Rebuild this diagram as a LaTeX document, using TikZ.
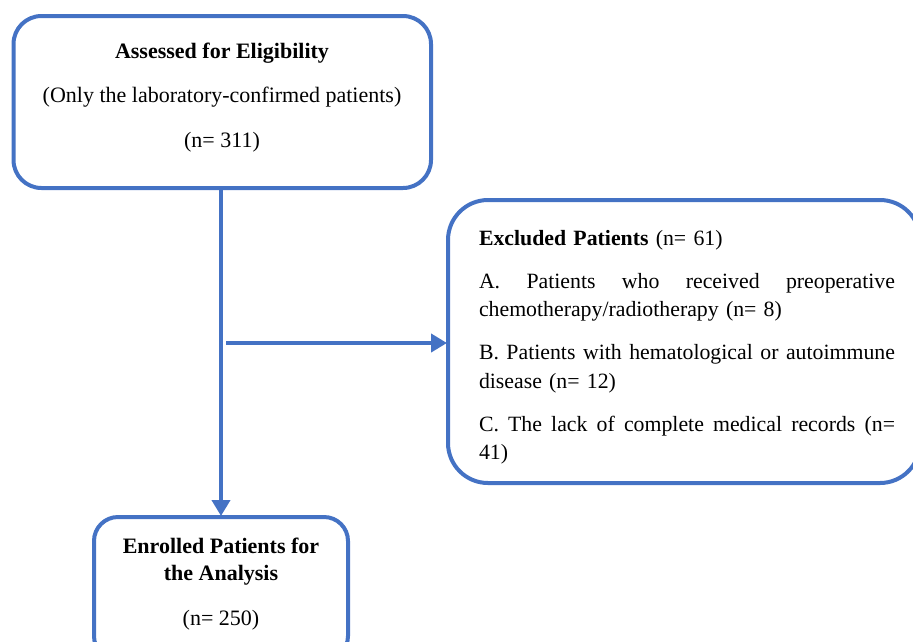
\documentclass[tikz,border=0pt]{standalone}
\usepackage{fontspec}
\setmainfont{Liberation Serif}
\usetikzlibrary{arrows.meta}
\definecolor{boxblue}{HTML}{4472C4}
\newcommand{\jline}[1]{\makebox[416pt][s]{\spaceskip=0pt\relax\xspaceskip=0pt\relax #1}}
\begin{document}
\begin{tikzpicture}[x=1pt,y=-1pt,
  box/.style={draw=boxblue, line width=4pt, rounded corners=#1, inner sep=0pt, outer sep=0pt},
  txt/.style={inner sep=0pt, outer sep=0pt, anchor=base, font=\fontsize{22}{26}\selectfont},
  flow/.style={draw=boxblue, line width=4pt, -{Triangle[width=18pt,length=16pt]}, shorten >=1pt}]
\useasboundingbox (0,0) rectangle (913,641);
% boxes
\node[box=28pt, minimum width=417.5pt, minimum height=172pt] (assess) at (222.25,102) {};
\node[box=40pt, minimum width=472pt, minimum height=283pt] (excl) at (684,341.5) {};
\node[box=24pt, minimum width=254pt, minimum height=143pt] (enrol) at (221,588.5) {};
% top texts
\node[txt] (t1) at (222,58) {\textbf{Assessed for Eligibility}};
\node[txt] (t2) at (222,102) {(Only the laboratory-confirmed patients)};
\node[txt] (t3) at (222,147) {(n= 311)};
% bottom texts
\node[txt] (b1) at (221,553) {\textbf{Enrolled Patients for}};
\node[txt] (b2) at (221,580) {\textbf{the Analysis}};
\node[txt] (b3) at (221,625) {(n= 250)};
% right text
\node[inner sep=0pt, outer sep=0pt, anchor=base west, text width=416pt, align=left,
      font=\fontsize{21.8}{28.5}\selectfont] (ex) at (479,245)
{\textbf{Excluded Patients} (n= 61)\\[14.5pt]
\jline{A. Patients who received preoperative}\\
chemotherapy/radiotherapy (n= 8)\\[14.5pt]
\jline{B. Patients with hematological or autoimmune}\\
disease (n= 12)\\[14.5pt]
\jline{C. The lack of complete medical records (n=}\\
41)};
% connectors
\coordinate (split) at (226,343);
\draw[flow] (assess.south -| enrol.north) -- (enrol.north);
\draw[flow] (split) -- (split -| excl.west);
\end{tikzpicture}
\end{document}
